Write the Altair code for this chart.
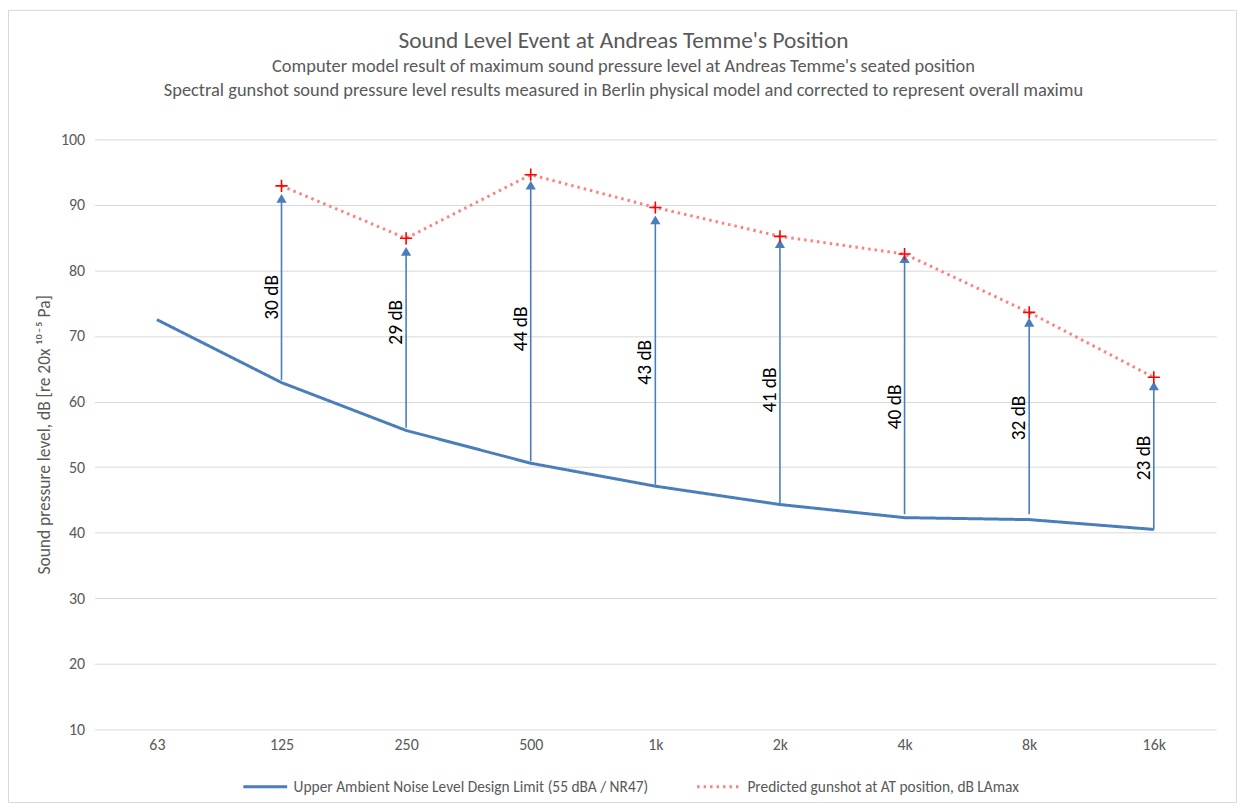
import altair as alt
import pandas as pd

# ---- data ----
freqs = ["63", "125", "250", "500", "1k", "2k", "4k", "8k", "16k"]
ambient = [72.5, 62.9, 55.6, 50.6, 47.1, 44.3, 42.3, 42.0, 40.5]
gun_freqs = ["125", "250", "500", "1k", "2k", "4k", "8k", "16k"]
gunshot = [92.9, 84.9, 94.6, 89.6, 85.2, 82.5, 73.6, 63.7]
arrow_base = [63.3, 56.0, 50.9, 47.3, 44.5, 42.8, 42.8, 40.5]
arrow_tip = [91.0, 82.9, 93.0, 87.7, 84.1, 81.8, 72.1, 62.4]
diff_labels = ["30 dB", "29 dB", "44 dB", "43 dB", "41 dB", "40 dB", "32 dB", "23 dB"]
label_y = [75.9, 72.1, 71.1, 66.0, 61.8, 59.2, 57.5, 51.4]
y_ticks = [10, 20, 30, 40, 50, 60, 70, 80, 90, 100]

S1 = "Upper Ambient Noise Level Design Limit (55 dBA / NR47)"
S2 = "Predicted gunshot at AT position, dB LAmax"

lines_df = pd.concat([
    pd.DataFrame({"freq": freqs, "value": ambient, "series": S1}),
    pd.DataFrame({"freq": gun_freqs, "value": gunshot, "series": S2}),
], ignore_index=True)
gun_df = pd.DataFrame({"freq": gun_freqs, "value": gunshot})
arrow_df = pd.DataFrame({"freq": gun_freqs, "base": arrow_base, "tip": arrow_tip,
                         "label": diff_labels, "ly": label_y})

FONT = "Carlito, Lato, sans-serif"
GREY = "#595959"
BLUE = "#4a7ebb"

W, H = 1127, 593
PAD = {"left": 87, "top": 130, "right": 21, "bottom": 74}

xs = alt.Scale(type="point", domain=freqs, padding=0.5)
ys = alt.Scale(domain=[10, 100], nice=False, zero=False)

x_enc = alt.X("freq:N", scale=xs, sort=freqs,
              axis=alt.Axis(title=None, ticks=False, domain=False, grid=False,
                            labelAngle=0, labelPadding=7, labelFontSize=16,
                            labelColor=GREY, labelFont=FONT))
y_axis = alt.Axis(title="Sound pressure level, dB [re 20x \u00b9\u2070\u207b\u2075 Pa]",
                  values=y_ticks, ticks=False, domain=False, grid=True,
                  gridColor="#d9d9d9", gridWidth=1, labelPadding=10,
                  labelFontSize=16, labelColor=GREY, labelFont=FONT,
                  titleFontSize=17.5, titleColor=GREY, titleFont=FONT,
                  titleFontWeight="normal", titlePadding=7)

frame = alt.Chart(pd.DataFrame({"a": [1]})).mark_rect(
    fillOpacity=0, stroke="#d9d9d9", strokeWidth=1
).encode(x=alt.value(-86.5), x2=alt.value(W + PAD["right"] - 0.5),
         y=alt.value(-129.5), y2=alt.value(H + PAD["bottom"] - 0.5))

lines = alt.Chart(lines_df).mark_line(strokeWidth=3).encode(
    x=x_enc,
    y=alt.Y("value:Q", scale=ys, axis=y_axis),
    color=alt.Color("series:N", scale=alt.Scale(domain=[S1, S2], range=[BLUE, "#ff8080"]),
                    legend=alt.Legend(title=None, orient="none", legendX=148, legendY=627,
                                      direction="horizontal", symbolType="stroke",
                                      symbolSize=1936, symbolStrokeWidth=3,
                                      labelFontSize=15.5, labelColor=GREY, labelFont=FONT,
                                      labelLimit=0, labelOffset=5, columnPadding=42)),
    strokeDash=alt.StrokeDash("series:N",
                              scale=alt.Scale(domain=[S1, S2], range=[[1, 0], [2.5, 4]]),
                              legend=alt.Legend(title=None)),
    detail="series:N",
)

shafts = alt.Chart(arrow_df).mark_rule(color=BLUE, strokeWidth=1.6).encode(
    x=alt.X("freq:N", scale=xs, sort=freqs),
    y=alt.Y("base:Q", scale=ys),
    y2="tip:Q",
)

heads = alt.Chart(arrow_df).mark_point(shape="triangle-up", filled=True, color=BLUE,
                                       size=105, opacity=1).encode(
    x=alt.X("freq:N", scale=xs, sort=freqs),
    y=alt.Y("tip:Q", scale=ys),
)

pluses = alt.Chart(gun_df).mark_point(shape="M-1,0L1,0M0,-1L0,1", filled=False,
                                      color="#ff0000", strokeWidth=1.6, size=150,
                                      opacity=1).encode(
    x=alt.X("freq:N", scale=xs, sort=freqs),
    y=alt.Y("value:Q", scale=ys),
)

labels = alt.Chart(arrow_df).mark_text(angle=270, align="center", baseline="alphabetic",
                                      dy=-4, fontSize=19.5, font=FONT, color="#000000").encode(
    x=alt.X("freq:N", scale=xs, sort=freqs),
    y=alt.Y("ly:Q", scale=ys),
    text="label:N",
)

chart = alt.layer(frame, lines, shafts, heads, pluses, labels).properties(
    width=W, height=H,
    autosize=alt.AutoSizeParams(type="none"),
    padding=PAD,
    background="white",
    title=alt.TitleParams(
        text="Sound Level Event at Andreas Temme's Position",
        subtitle=["Computer model result of maximum sound pressure level at Andreas Temme's seated position",
                  "Spectral gunshot sound pressure level results measured in Berlin physical model and corrected to represent overall maximu"],
        anchor="middle", dx=-32, offset=-90, fontSize=23.5, font=FONT, color=GREY,
        fontWeight="normal", subtitleFontSize=18.5, subtitleFont=FONT,
        subtitleColor=GREY, subtitlePadding=5, subtitleLineHeight=24),
).configure_view(stroke=None)

chart.save("out.html", embed_options={"renderer": "svg", "actions": False})
